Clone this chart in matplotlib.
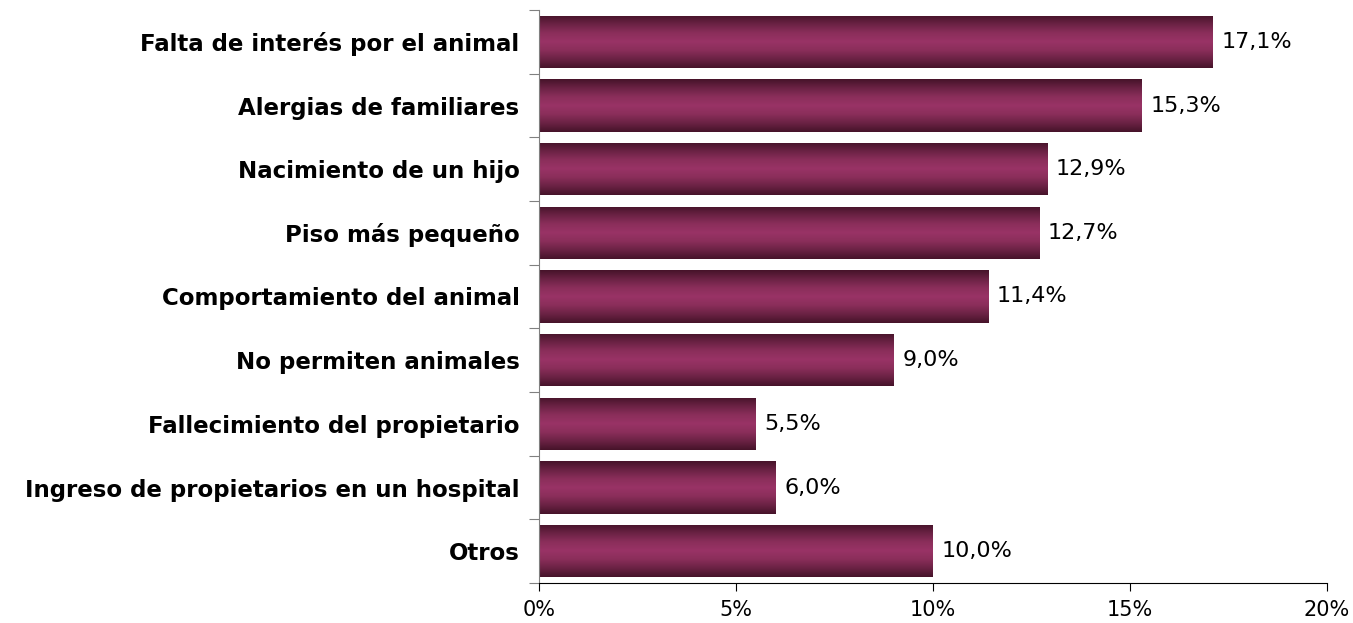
import matplotlib
matplotlib.use('Agg')
import matplotlib.pyplot as plt
import numpy as np
from matplotlib.colors import LinearSegmentedColormap

categories = ["Falta de interés por el animal", "Alergias de familiares", "Nacimiento de un hijo",
              "Piso más pequeño", "Comportamiento del animal", "No permiten animales",
              "Fallecimiento del propietario", "Ingreso de propietarios en un hospital", "Otros"]
values = [17.1, 15.3, 12.9, 12.7, 11.4, 9.0, 5.5, 6.0, 10.0]
value_labels = ["17,1%", "15,3%", "12,9%", "12,7%", "11,4%", "9,0%", "5,5%", "6,0%", "10,0%"]
xticks = [0, 5, 10, 15, 20]
xtick_labels = ["0%", "5%", "10%", "15%", "20%"]

fig = plt.figure(figsize=(13.53, 6.23), dpi=100)
ax = fig.add_axes([539/1353, 1 - 583/623, (1327-539)/1353, (583-10)/623])

ypos = np.arange(len(categories))
bars = ax.barh(ypos, values, height=0.82, color='none', edgecolor='none')

# vertical gradient: dark edges, light middle
cmap = LinearSegmentedColormap.from_list(
    'plum', ['#461329', '#6a2244', '#8a2e5a', '#993366', '#8a2e5a', '#6a2244', '#461329'])
grad = np.linspace(0, 1, 256).reshape(-1, 1)
for b in bars:
    x0, y0 = b.get_x(), b.get_y()
    w, h = b.get_width(), b.get_height()
    im = ax.imshow(grad, cmap=cmap, aspect='auto', extent=(x0, x0 + w, y0, y0 + h),
                   origin='lower', zorder=2)
    im.set_clip_path(b)

for y, v, lab in zip(ypos, values, value_labels):
    ax.text(v + 0.22, y, lab, va='center', ha='left', fontsize=16, color='black')

ax.set_xlim(0, 20)
ax.set_ylim(len(categories) - 0.5, -0.5)
ax.set_xticks(xticks)
ax.set_xticklabels(xtick_labels, fontsize=15)
ax.set_yticks(np.arange(-0.5, len(categories) + 0.5, 1), minor=False)
ax.set_yticklabels([])
ax.set_yticks(ypos, minor=True)
ax.set_yticklabels(categories, minor=True, fontsize=16.5, fontweight='bold')
ax.tick_params(axis='y', which='minor', length=0, pad=14)
ax.tick_params(axis='y', which='major', length=7, color='#808080')
ax.tick_params(axis='x', length=6, pad=6)

for s in ['top', 'right']:
    ax.spines[s].set_visible(False)
ax.spines['left'].set_color('#808080')
ax.spines['bottom'].set_color('black')

plt.savefig('out.png', dpi=100)
plt.close()
